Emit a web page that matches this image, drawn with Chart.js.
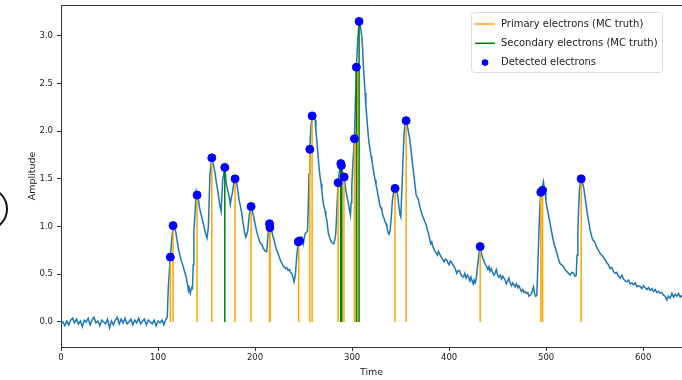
<!DOCTYPE html>
<html>
<head>
<meta charset="utf-8">
<script src="https://cdn.jsdelivr.net/npm/chart.js@4.4.0/dist/chart.umd.min.js"></script>
<style>
    html, body {margin: 0; padding: 0; background: #fff;}
    canvas {display: block;}
</style>
</head>
<body>
<canvas id="myChart" width="682" height="380"></canvas>
<script>
// signal
const sigTime = [
    0, 2, 4, 6, 8, 10, 12, 14, 16, 18, 20, 22, 24, 26, 28, 30, 32, 34, 36, 38,
    40, 42, 44, 46, 48, 50, 52, 54, 56, 58, 60, 62, 64, 66, 68, 70, 72, 74, 76, 78,
    80, 82, 84, 86, 88, 90, 92, 94, 96, 98, 100, 102, 104, 106, 108,
    109.5, 110.6, 112.7, 114, 115.5, 116.6, 118.2, 119.5, 121, 122.5, 124.4, 126, 127.8, 129, 130.6,
    131.3, 132, 133.3, 134.5, 135.5, 136.3, 137, 138.5, 139.5, 140.2, 141.6, 143.3, 145, 146.7, 148,
    149.2, 150.5, 151.9, 153.5, 155.4, 157, 158.8, 160, 161.5, 163, 163.9, 165, 166.7, 168.8, 170.5,
    171.5, 172.5, 173.5, 174.5, 175.5, 176.6, 178, 179.4, 180.5, 181.4, 183.5, 184.8, 186.3, 187.3, 188.3,
    189.4, 190.4, 191.5, 192.5, 194, 195.9, 197.2, 198.6, 200, 201.4, 203, 204.8, 206.2, 207.5, 208.6,
    210, 211, 212.1, 213, 214.2, 214.9, 215.5, 216.3, 217.2, 218.4, 219.6, 221, 222.3, 223.6, 225,
    226.3, 227.5, 228.7, 229.9, 231.3, 232.7, 234, 235.4, 236.6, 237.8, 239, 240.2, 241.6, 243, 244.6,
    245.8, 247, 248.1, 249, 249.8, 251, 251.9, 253, 254, 254.8, 255.6, 256.4, 257.6, 258.8, 260.3,
    261.9, 262.7, 263.6, 264.4, 265.3, 266.1, 267, 268, 268.8, 269.6, 270.4, 271.3, 272.2, 273, 273.9,
    274.7, 275.6, 277, 278.4, 279.7, 281.1, 282.2, 283.2, 284.4, 285.6, 287, 288.4, 289, 289.5, 290.6,
    291.8, 292.6, 293.5, 294.8, 296.2, 297.2, 298.3, 299, 299.7, 301, 302.4, 303.4, 304.4, 305.8, 307.2,
    308.6, 310, 310.9, 311.7, 312.5, 313.4, 314.2, 315.1, 316, 316.8, 317.7, 318.6, 319.5, 320.3, 321.2,
    322, 322.8, 323.7, 324.6, 325.5, 326.3, 327.1, 328, 328.9, 329.8, 330.6, 331.5, 332.3, 333.2, 334,
    335, 335.8, 336.6, 337.4, 338.3, 339.2, 340.4, 341.6, 343, 344.3, 345.5, 346.7, 347.8, 348.8, 349.5,
    350.2, 350.8, 351.5, 352.5, 353.6, 354.6, 355.7, 357.4, 359.1, 360.3, 361.5, 362.7, 363.9, 365, 366,
    367.2, 368.4, 369.6, 370.8, 372.1, 373.5, 374.9, 376.3, 377.5, 378.7, 379.9, 381.1, 382.1, 383.2, 384.4,
    385.6, 386.8, 388, 389, 390, 391.3, 392.5, 393.6, 394.8, 396.2, 397.6, 398.8, 400, 401.2, 402.4,
    403.8, 405.2, 406.5, 407.9, 409.3, 410.7, 412, 413.4, 414.8, 416.2, 417.5, 419, 420, 421.5, 422.5,
    423.4, 424.8, 425.8, 426.8, 428, 429.2, 430.6, 432, 433.2, 434.3, 435.4, 436.6, 437.7, 438.8, 440,
    441.1, 442.3, 443.5, 444.8, 446.1, 447.4, 448.6, 449.8, 451.2, 452.6, 454, 455.3, 456.5, 457.7, 459,
    460.3, 461.6, 462.9, 464.2, 465.5, 466.7, 468, 469.3, 470.6, 471.9, 473.2, 474.5, 475.8, 477.1, 478.4,
    479.7, 481, 482.3, 483.5, 485, 486.2, 486.9, 488, 489.2, 490.4, 491.3, 492.5, 493.5, 494.5, 495.5,
    496.6, 497.2, 498, 499, 499.8, 500.7, 502, 503.4, 504.6, 505.9, 507, 508.2, 509.6, 511, 512.7,
    514.4, 516, 517.8, 519.5, 521.3, 523, 524.7, 526.4, 528.2, 529.6, 531, 531.8, 532.7, 533.5, 534.3,
    535.2, 536.1, 537.3, 538.5, 539.5, 540.5, 541.8, 543, 544.2, 545.4, 546.8, 548.1, 549.4, 550.8, 552.3,
    553.9, 555.6, 557.4, 559.1, 560.8, 562.5, 564.2, 566, 567.7, 569.4, 571.1, 572.8, 574.5, 576.3, 578,
    579.7, 581.5, 583.2, 585, 586.6, 588.3, 590, 591.8, 593.5, 595.2, 597, 598.7, 600.4, 602.1, 603.8,
    605.5, 607.2, 608.9, 610.6, 612.3, 614, 615.8, 617.5, 619.2, 620.9, 622.7, 624.4, 626, 627.8, 629.6,
    631.3, 633, 634.7, 636.5, 638.2, 640
];
const sigAmp = [
    -0.02, 0.00, -0.04, 0.01, -0.03, 0.02, 0.04, -0.01, 0.03, -0.02, 0.01, -0.05, 0.02, 0.00, 0.04, -0.03, 0.02, 0.05, -0.01, 0.01,
    -0.04, 0.02, 0.00, -0.02, 0.03, -0.06, 0.01, -0.03, 0.02, 0.05, -0.02, 0.03, -0.01, 0.04, -0.02, 0.00, 0.03, -0.03, 0.02, -0.01,
    0.04, -0.02, 0.01, 0.03, -0.03, 0.02, 0.00, -0.02, 0.02, -0.04, 0.01, -0.01, 0.02, -0.03, 0.03,
    0.05, 0.37, 0.68, 0.85, 1.01, 0.99, 0.95, 0.86, 0.77, 0.70, 0.63, 0.58, 0.51, 0.47, 0.38,
    0.33, 0.36, 0.30, 0.36, 0.35, 0.60, 0.96, 1.20, 1.37, 1.34, 1.28, 1.17, 1.10, 1.03, 0.97,
    0.92, 0.88, 1.00, 1.55, 1.72, 1.65, 1.56, 1.47, 1.38, 1.27, 1.21, 1.16, 1.49, 1.62, 1.44,
    1.40, 1.35, 1.30, 1.23, 1.30, 1.35, 1.45, 1.50, 1.47, 1.44, 1.28, 1.22, 1.14, 1.06, 1.00,
    0.93, 0.89, 0.92, 0.96, 1.12, 1.21, 1.16, 1.10, 1.03, 0.96, 0.90, 0.84, 0.82, 0.80, 0.77,
    0.75, 0.74, 0.74, 0.88, 1.00, 1.03, 0.99, 0.97, 0.95, 0.90, 0.86, 0.80, 0.75, 0.72, 0.68,
    0.64, 0.62, 0.59, 0.58, 0.56, 0.57, 0.54, 0.55, 0.52, 0.51, 0.47, 0.42, 0.50, 0.70, 0.84,
    0.85, 0.88, 0.89, 0.86, 0.82, 0.90, 0.93, 0.94, 0.95, 1.20, 1.55, 1.81, 2.05, 2.16, 2.15,
    2.12, 2.00, 1.91, 1.80, 1.70, 1.60, 1.52, 1.45, 1.38, 1.30, 1.24, 1.20, 1.16, 1.11, 1.07,
    1.00, 0.93, 0.88, 0.84, 0.83, 0.82, 0.86, 0.93, 1.20, 1.46, 1.58, 1.66, 1.64, 1.60, 1.55,
    1.52, 1.45, 1.38, 1.31, 1.24, 1.18, 1.12, 1.25, 1.42, 1.70, 1.92, 2.30, 2.67, 2.95, 3.15,
    3.10, 2.99, 2.85, 2.68, 2.55, 2.40, 2.27, 2.15, 2.04, 1.94, 1.86, 1.80, 1.74, 1.70, 1.64,
    1.59, 1.54, 1.49, 1.44, 1.40, 1.35, 1.31, 1.26, 1.21, 1.20, 1.17, 1.13, 1.10, 1.08, 1.05,
    1.03, 1.00, 0.96, 0.93, 0.92, 0.96, 1.10, 1.28, 1.37, 1.40, 1.38, 1.35, 1.25, 1.17, 1.12,
    1.10, 1.25, 1.42, 1.72, 1.98, 2.07, 2.11, 2.03, 1.94, 1.84, 1.73, 1.62, 1.52, 1.42, 1.33,
    1.31, 1.28, 1.22, 1.17, 1.13, 1.09, 1.05, 1.02, 0.97, 0.93, 0.87, 0.82, 0.84, 0.79, 0.76,
    0.74, 0.72, 0.70, 0.74, 0.72, 0.69, 0.67, 0.65, 0.63, 0.66, 0.65, 0.62, 0.60, 0.64, 0.63,
    0.60, 0.58, 0.55, 0.51, 0.54, 0.54, 0.50, 0.48, 0.47, 0.51, 0.46, 0.49, 0.47, 0.43, 0.47,
    0.44, 0.40, 0.44, 0.41, 0.45, 0.58, 0.70, 0.79, 0.72, 0.68, 0.65, 0.62, 0.60, 0.58, 0.55,
    0.58, 0.53, 0.56, 0.52, 0.49, 0.51, 0.55, 0.50, 0.47, 0.49, 0.45, 0.48, 0.46, 0.44, 0.40,
    0.43, 0.46, 0.41, 0.38, 0.41, 0.39, 0.37, 0.40, 0.36, 0.38, 0.35, 0.32, 0.34, 0.31, 0.32,
    0.30, 0.31, 0.27, 0.28, 0.30, 0.35, 0.37, 0.30, 0.27, 0.28, 0.55, 0.93, 1.20, 1.36, 1.40,
    1.44, 1.47, 1.40, 1.35, 1.27, 1.21, 1.14, 1.07, 1.00, 0.93, 0.87, 0.82, 0.77, 0.72, 0.66,
    0.61, 0.60, 0.58, 0.55, 0.53, 0.51, 0.49, 0.52, 0.51, 0.48, 0.49, 0.70, 0.93, 1.20, 1.38,
    1.46, 1.50, 1.46, 1.42, 1.35, 1.28, 1.18, 1.10, 1.03, 0.96, 0.90, 0.86, 0.85, 0.82, 0.78,
    0.75, 0.72, 0.70, 0.68, 0.65, 0.62, 0.60, 0.56, 0.57, 0.53, 0.51, 0.52, 0.48, 0.46, 0.49,
    0.45, 0.43, 0.42, 0.44, 0.40, 0.41, 0.39, 0.41, 0.37, 0.38, 0.37, 0.35, 0.38, 0.36, 0.34,
    0.36, 0.33, 0.35, 0.32, 0.34, 0.31, 0.32, 0.30, 0.31, 0.28, 0.27, 0.23, 0.27, 0.25, 0.30,
    0.26, 0.29, 0.27, 0.30, 0.26, 0.28
];

// MC truth
const primaryTime = [112.7, 115.5, 140.2, 155.4, 179.4, 195.9, 214.9, 215.5, 245.0, 256.4, 258.8, 285.6, 291.6, 302.4, 305.5, 344.3, 355.7, 432.0, 494.5, 496.3, 536.1];
const primaryHeight = [0.68, 1.01, 1.33, 1.72, 1.50, 1.21, 1.03, 0.99, 0.84, 1.81, 2.16, 1.46, 1.52, 1.92, 2.66, 1.40, 2.11, 0.79, 1.36, 1.38, 1.50];
const secondaryTime = [168.8, 288.2, 289.4, 304.4, 307.2];
const secondaryHeight = [1.62, 1.66, 1.64, 2.67, 3.15];

// detected
const detectedTime = [112.7, 115.5, 140.2, 155.4, 168.8, 179.4, 195.9, 214.9, 215.3, 244.6, 245.8, 256.4, 258.8, 285.6, 288.4, 289.0, 291.8, 302.4, 304.4, 307.2, 344.3, 355.7, 432.0, 494.5, 496.3, 536.1];
const detectedAmp = [0.68, 1.01, 1.33, 1.72, 1.62, 1.50, 1.21, 1.03, 0.99, 0.84, 0.85, 1.81, 2.16, 1.46, 1.66, 1.64, 1.52, 1.92, 2.67, 3.15, 1.40, 2.11, 0.79, 1.36, 1.38, 1.50];

const xTicks = [0, 100, 200, 300, 400, 500, 600];
const yTicks = [0, 0.5, 1.0, 1.5, 2.0, 2.5, 3.0];

const FONT = '"DejaVu Sans", sans-serif';

function stems(times, heights) {
    let pts = [];
    times.forEach((t, i) => {
        pts.push({x: t, y: 0});
        pts.push({x: t, y: heights[i]});
        pts.push({x: t, y: null});
    });
    return pts;
}

const signal = sigTime.map((t, i) => ({x: t, y: sigAmp[i]}));
const detected = detectedTime.map((t, i) => ({x: t, y: detectedAmp[i]}));

// legend + frame drawn by hand, like the matplotlib box
const extras = {
    id: 'extras',
    afterDraw(chart) {
        const ctx = chart.ctx;
        const area = chart.chartArea;
        ctx.save();
        // top spine
        ctx.strokeStyle = '#333';
        ctx.lineWidth = 1;
        ctx.beginPath();
        ctx.moveTo(area.left, area.top + 0.5);
        ctx.lineTo(area.right, area.top + 0.5);
        ctx.stroke();

        // legend
        const bx = 471, by = area.top + 7, bw = 191, bh = 60;
        ctx.fillStyle = 'rgba(255,255,255,0.85)';
        ctx.strokeStyle = '#dcdcdc';
        ctx.beginPath();
        ctx.roundRect(bx + 0.5, by + 0.5, bw, bh, 3);
        ctx.fill();
        ctx.stroke();

        const items = [
            {label: 'Primary electrons (MC truth)', color: '#ffa500', kind: 'line'},
            {label: 'Secondary electrons (MC truth)', color: '#008000', kind: 'line'},
            {label: 'Detected electrons', color: '#0000ff', kind: 'dot'}
        ];
        ctx.font = '10px ' + FONT;
        ctx.textBaseline = 'middle';
        items.forEach((it, i) => {
            const y = by + 12 + i * 19.3;
            if (it.kind === 'line') {
                ctx.strokeStyle = it.color;
                ctx.lineWidth = 1.5;
                ctx.beginPath();
                ctx.moveTo(bx + 4, y);
                ctx.lineTo(bx + 24, y);
                ctx.stroke();
            } else {
                ctx.fillStyle = it.color;
                ctx.beginPath();
                ctx.arc(bx + 14, y, 3.3, 0, Math.PI * 2);
                ctx.fill();
            }
            ctx.fillStyle = '#222';
            ctx.fillText(it.label, bx + 30, y);
        });

        // cut-off circle at the left edge of the picture
        ctx.strokeStyle = '#111';
        ctx.lineWidth = 2;
        ctx.beginPath();
        ctx.arc(-14, 209, 21, -Math.PI / 2, Math.PI / 2);
        ctx.stroke();
        ctx.restore();
    }
};

const ctx = document.getElementById('myChart');

new Chart(ctx, {
    type: 'line',
    data: {
        datasets: [
            {
                data: signal,
                borderColor: '#1f77b4',
                borderWidth: 1.5,
                pointRadius: 0,
                tension: 0,
                order: 4
            },
            {
                data: stems(primaryTime, primaryHeight),
                borderColor: '#ffa500',
                borderWidth: 1.5,
                pointRadius: 0,
                spanGaps: false,
                order: 3
            },
            {
                data: stems(secondaryTime, secondaryHeight),
                borderColor: '#008000',
                borderWidth: 1.5,
                pointRadius: 0,
                spanGaps: false,
                order: 2
            },
            {
                type: 'scatter',
                data: detected,
                backgroundColor: '#0000ff',
                borderColor: '#0000ff',
                pointRadius: 4,
                order: 1
            }
        ]
    },
    options: {
        responsive: false,
        animation: false,
        devicePixelRatio: 1,
        layout: {autoPadding: false, padding: {top: 5, right: 0, bottom: 0, left: 0}},
        plugins: {
            legend: {display: false},
            tooltip: {enabled: false}
        },
        scales: {
            x: {
                type: 'linear',
                min: 0,
                max: 640,
                ticks: {
                    stepSize: 100,
                    padding: 2,
                    color: '#222',
                    font: {family: FONT, size: 8.5},
                    maxRotation: 0
                },
                afterBuildTicks: s => { s.ticks = xTicks.map(v => ({value: v})); },
                afterFit: s => { s.height = 33; s.paddingLeft = 0; s.paddingRight = 0; },
                grid: {drawOnChartArea: false, tickLength: 4, tickColor: '#333'},
                border: {color: '#333', width: 1},
                title: {display: true, text: 'Time', color: '#222', font: {family: FONT, size: 9.5}, padding: {top: 0, bottom: 2}}
            },
            y: {
                min: -0.262,
                max: 3.322,
                ticks: {
                    stepSize: 0.5,
                    padding: 4,
                    color: '#222',
                    font: {family: FONT, size: 8.5},
                    callback: v => v.toFixed(1)
                },
                afterBuildTicks: s => { s.ticks = yTicks.map(v => ({value: v})); },
                afterFit: s => { s.width = 61; s.paddingTop = 0; s.paddingBottom = 0; },
                grid: {drawOnChartArea: false, tickLength: 4, tickColor: '#333'},
                border: {color: '#333', width: 1},
                title: {display: true, text: 'Amplitude', color: '#222', font: {family: FONT, size: 9.5}, padding: {top: 27, bottom: 0}}
            }
        }
    },
    plugins: [extras]
});
</script>
</body>
</html>
